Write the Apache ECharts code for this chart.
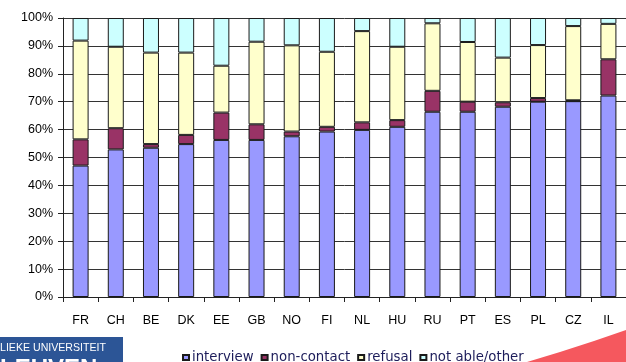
<!DOCTYPE html>
<html>
<head>
<meta charset="utf-8">
<script src="https://cdn.jsdelivr.net/npm/echarts@6/dist/echarts.min.js"></script>
<style>
  html, body { margin: 0; padding: 0; background: #fff; }
  #chart { width: 626px; height: 362px; }
</style>
</head>
<body>
<div id="chart"></div>
<script>
// Fieldwork outcome per country, share of sampled units (%)
const countries = ['FR', 'CH', 'BE', 'DK', 'EE', 'GB', 'NO', 'FI', 'NL', 'HU', 'RU', 'PT', 'ES', 'PL', 'CZ', 'IL'];
const interview  = [47.1, 52.9, 53.5, 54.8, 56.3, 56.3, 57.6, 59.3, 59.9, 61.0, 66.4, 66.4, 68.2, 70.0, 70.2, 72.2];
const nonContact = [9.4, 7.6, 1.3, 3.3, 9.8, 5.6, 1.7, 1.7, 2.7, 2.4, 7.5, 3.6, 1.6, 1.3, 0.3, 13.0];
const refusal    = [35.4, 29.2, 32.8, 29.5, 16.8, 29.6, 30.9, 26.9, 32.7, 26.3, 24.2, 21.4, 16.0, 19.0, 26.6, 12.7];
const notAble    = [8.1, 10.3, 12.4, 12.4, 17.1, 8.5, 9.8, 12.1, 4.7, 10.3, 1.9, 8.6, 14.2, 9.7, 2.9, 2.1];
const yTicks = [0, 10, 20, 30, 40, 50, 60, 70, 80, 90, 100];

const seriesDefs = [
  { name: 'interview', data: interview, color: '#9999ff' },
  { name: 'non-contact', data: nonContact, color: '#993366' },
  { name: 'refusal', data: refusal, color: '#ffffcc' },
  { name: 'not able/other', data: notAble, color: '#ccffff' }
];

const chart = echarts.init(document.getElementById('chart'), null, { renderer: 'canvas' });

chart.setOption({
  animation: false,
  backgroundColor: '#ffffff',
  textStyle: { fontFamily: 'Liberation Sans, Arial, sans-serif' },
  grid: { left: 63, top: 18, right: -15, bottom: 65, containLabel: false },
  legend: {
    left: 182,
    top: 351,
    padding: 0,
    itemWidth: 6,
    itemHeight: 5,
    itemGap: 7,
    icon: 'rect',
    textStyle: {
      fontSize: 13.3,
      fontFamily: 'DejaVu Sans, sans-serif',
      color: '#1c1c5a',
      padding: [0, 0, 0, -2]
    },
    data: seriesDefs.map(s => s.name)
  },
  xAxis: {
    type: 'category',
    data: countries,
    boundaryGap: true,
    axisLine: { lineStyle: { color: '#222', width: 1 } },
    axisTick: { show: true, length: 5, lineStyle: { color: '#222' } },
    axisLabel: { color: '#000', fontSize: 12.5, margin: 17 },
    splitLine: { show: false }
  },
  yAxis: {
    type: 'value',
    min: 0,
    max: 100,
    interval: 10,
    axisLine: { show: true, lineStyle: { color: '#222', width: 1 } },
    axisTick: { show: true, length: 5, lineStyle: { color: '#222' } },
    axisLabel: {
      color: '#000',
      fontSize: 12.5,
      margin: 10,
      formatter: v => yTicks.includes(v) ? v + '%' : ''
    },
    splitLine: { show: true, lineStyle: { color: '#333', width: 1 } }
  },
  series: seriesDefs.map(s => ({
    name: s.name,
    type: 'bar',
    stack: 'outcome',
    barWidth: 16,
    data: s.data,
    itemStyle: { color: s.color, borderColor: '#1a1a1a', borderWidth: 1 }
  })),
  graphic: [
    // university logo block, bottom-left
    {
      type: 'rect',
      shape: { x: 0, y: 337, width: 123, height: 25 },
      style: { fill: '#2c5596' },
      z: 10
    },
    {
      type: 'text',
      style: {
        x: 0, y: 348, text: 'LIEKE UNIVERSITEIT',
        fill: '#ffffff', font: '10.6px Liberation Sans, Arial, sans-serif',
        textVerticalAlign: 'middle'
      },
      z: 11
    },
    {
      type: 'text',
      style: {
        x: 0, y: 357, text: 'LEUVEN',
        fill: '#ffffff', font: 'bold 24px Liberation Sans, Arial, sans-serif',
        textVerticalAlign: 'top'
      },
      z: 11
    },
    // red swoosh, bottom-right
    {
      type: 'polygon',
      shape: { points: [[527, 362], [560, 352], [594, 341], [626, 330], [626, 362]] },
      style: { fill: '#f5585e' },
      z: 10
    }
  ]
});
</script>
</body>
</html>
